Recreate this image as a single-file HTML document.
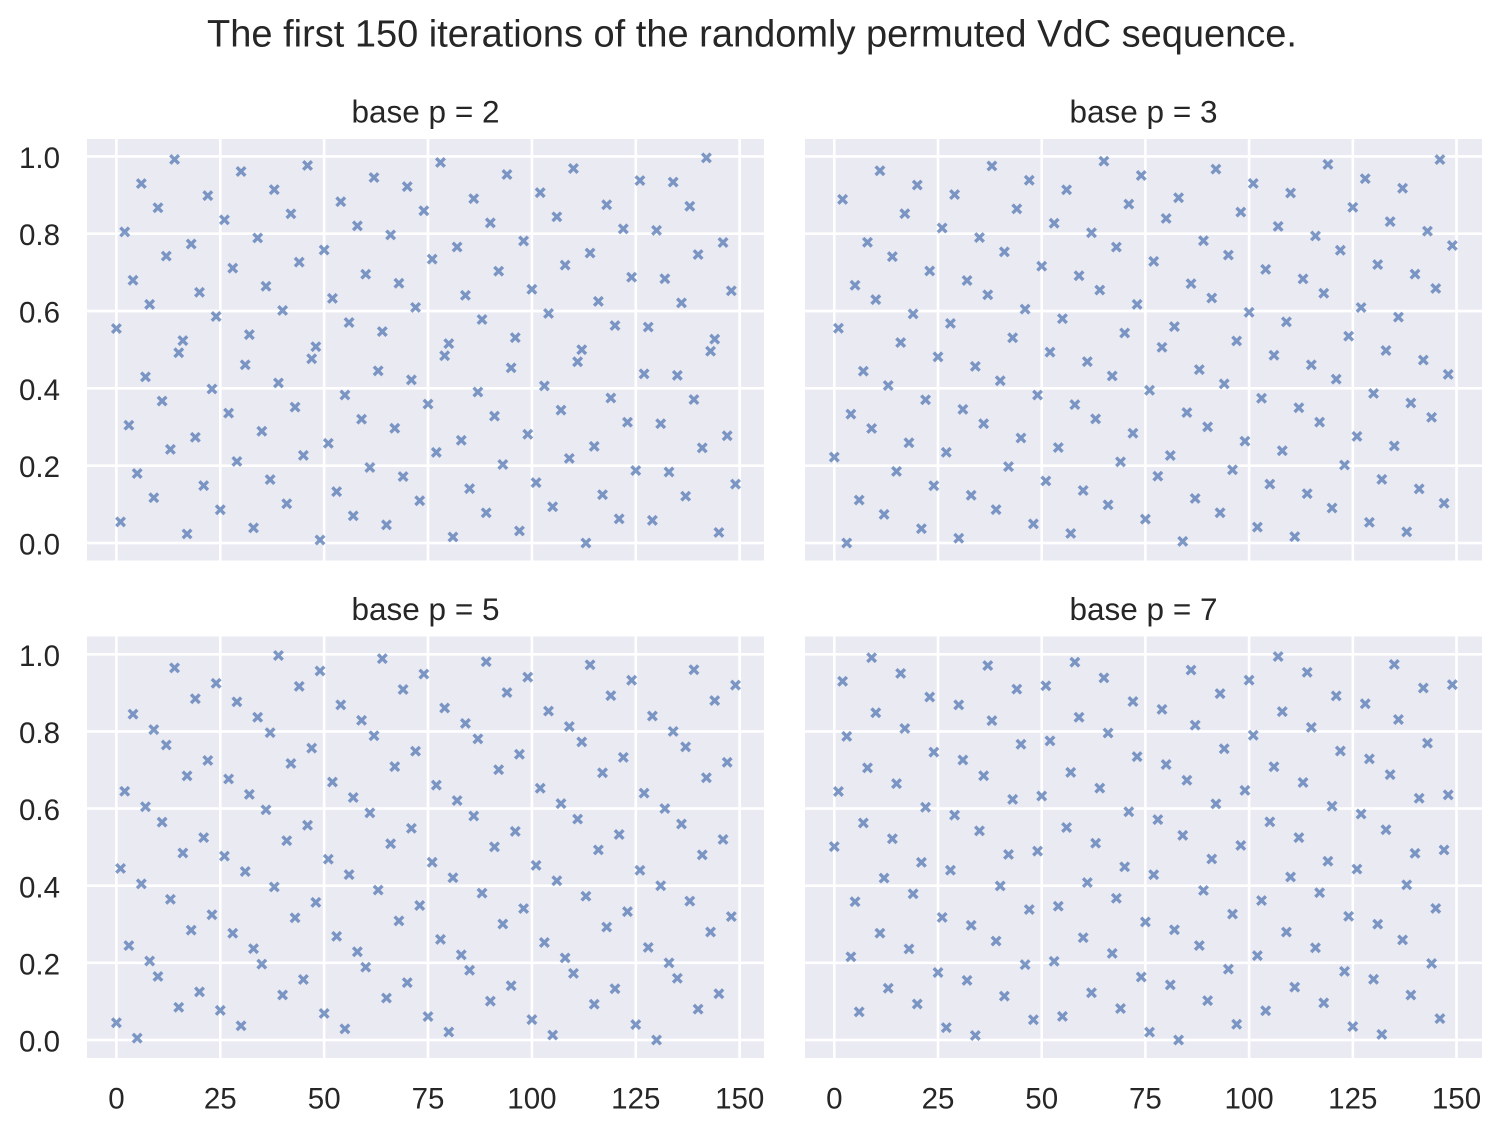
<!DOCTYPE html>
<html><head><meta charset="utf-8"><style>html,body{margin:0;padding:0;background:#fff}svg{display:block}</style></head>
<body>
<svg id="s" width="1502" height="1132" viewBox="0 0 1502 1132" xmlns="http://www.w3.org/2000/svg" font-family="'Liberation Sans', Arial, sans-serif" fill="#262626">
<defs>
<polygon id="m" points="-3.1,-5.6 0,-2.5 3.1,-5.6 5.6,-3.1 2.5,0 5.6,3.1 3.1,5.6 0,2.5 -3.1,5.6 -5.6,3.1 -2.5,0 -5.6,-3.1" fill="#4c72b0" stroke="#ffffff" stroke-width="0.4" stroke-opacity="0.5" opacity="0.7"/>
</defs>
<rect x="0" y="0" width="1502" height="1132" fill="#ffffff"/>
<text x="752" y="46.5" font-size="38" text-anchor="middle">The first 150 iterations of the randomly permuted VdC sequence.</text>

<rect x="87" y="139" width="677" height="421.5" fill="#eaeaf2"/>
<rect x="805" y="139" width="677" height="421.5" fill="#eaeaf2"/>
<rect x="87" y="636.5" width="677" height="421.5" fill="#eaeaf2"/>
<rect x="805" y="636.5" width="677" height="421.5" fill="#eaeaf2"/>

<g id="grid" stroke="#ffffff" stroke-width="2.6"></g>
<g id="pts"></g>

<text x="425.5" y="122.5" font-size="31.5" text-anchor="middle">base p = 2</text>
<text x="1143.5" y="122.5" font-size="31.5" text-anchor="middle">base p = 3</text>
<text x="425.5" y="620" font-size="31.5" text-anchor="middle">base p = 5</text>
<text x="1143.5" y="620" font-size="31.5" text-anchor="middle">base p = 7</text>

<g font-size="29.5" text-anchor="end">
<text x="60" y="554.5">0.0</text>
<text x="60" y="477.2">0.2</text>
<text x="60" y="399.9">0.4</text>
<text x="60" y="322.5">0.6</text>
<text x="60" y="245.2">0.8</text>
<text x="60" y="167.9">1.0</text>
<text x="60" y="1051.5">0.0</text>
<text x="60" y="974.4">0.2</text>
<text x="60" y="897.3">0.4</text>
<text x="60" y="820.1">0.6</text>
<text x="60" y="743">0.8</text>
<text x="60" y="665.8">1.0</text>
</g>
<g font-size="29.5" text-anchor="middle">
<text x="116.4" y="1108.3">0</text>
<text x="220.3" y="1108.3">25</text>
<text x="324.2" y="1108.3">50</text>
<text x="428" y="1108.3">75</text>
<text x="531.9" y="1108.3">100</text>
<text x="635.8" y="1108.3">125</text>
<text x="739.7" y="1108.3">150</text>
<text x="834.3" y="1108.3">0</text>
<text x="938" y="1108.3">25</text>
<text x="1041.7" y="1108.3">50</text>
<text x="1145.4" y="1108.3">75</text>
<text x="1249.1" y="1108.3">100</text>
<text x="1352.8" y="1108.3">125</text>
<text x="1456.5" y="1108.3">150</text>
</g>
</svg>
<script>
(function(){
var NS="http://www.w3.org/2000/svg";
var grid=document.getElementById("grid");
var pts=document.getElementById("pts");
var panels=[
 {L:87,T:139,x0:116.4,sx:4.155,y0:543,sy:386.6,sig:[[1,0],[0,1],[0,1],[0,1],[1,0],[1,0],[1,0],[0,1]],b:2},
 {L:805,T:139,x0:834.3,sx:4.148,y0:543,sy:386.6,sig:[[0,1,2],[2,0,1],[0,2,1],[0,1,2],[0,1,2]],b:3},
 {L:87,T:636.5,x0:116.4,sx:4.155,y0:1040,sy:385.7,sig:[[0,2,3,1,4],[1,0,4,2,3],[0,4,3,2,1],[3,0,1,2,4]],b:5},
 {L:805,T:636.5,x0:834.3,sx:4.148,y0:1040,sy:385.7,sig:[[3,4,6,5,1,2,0],[3,6,4,1,0,5,2],[4,0,5,1,2,3,6]],b:7}
];
function line(x1,y1,x2,y2){var l=document.createElementNS(NS,"line");l.setAttribute("x1",x1);l.setAttribute("y1",y1);l.setAttribute("x2",x2);l.setAttribute("y2",y2);grid.appendChild(l);}
panels.forEach(function(p){
  var R=p.L+677,B=p.T+421.5;
  for(var k=0;k<=6;k++){var x=p.x0+25*k*p.sx;line(x,p.T,x,B);}
  for(var j=0;j<=5;j++){var y=p.y0-0.2*j*p.sy;line(p.L,y,R,y);}
  for(var n=0;n<150;n++){
    var m=n,v=0,sc=1/p.b;
    for(var k2=0;k2<p.sig.length;k2++){var d=m%p.b;m=Math.floor(m/p.b);v+=p.sig[k2][d]*sc;sc/=p.b;}
    var u=document.createElementNS(NS,"use");
    u.setAttribute("href","#m");
    u.setAttributeNS("http://www.w3.org/1999/xlink","xlink:href","#m");
    u.setAttribute("x",(p.x0+n*p.sx).toFixed(2));
    u.setAttribute("y",(p.y0-v*p.sy).toFixed(2));
    pts.appendChild(u);
  }
});
})();
</script>
</body></html>
